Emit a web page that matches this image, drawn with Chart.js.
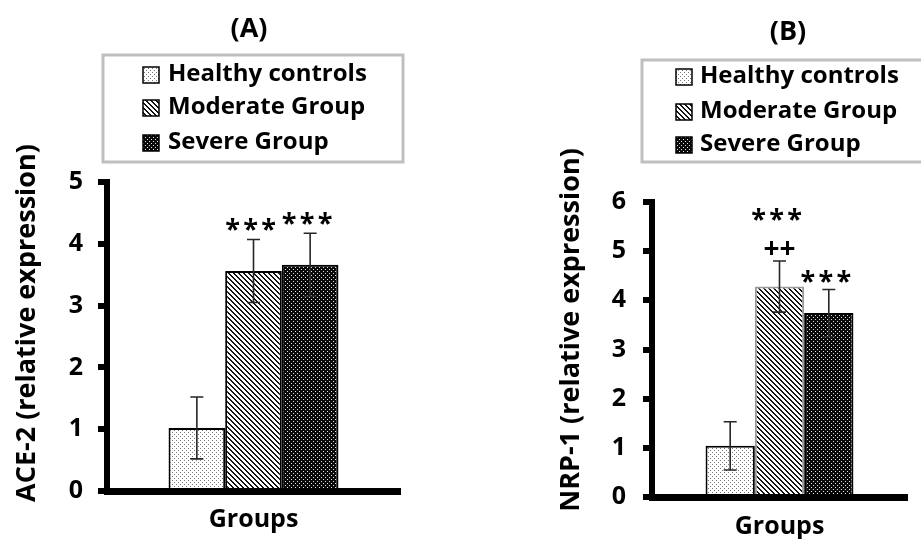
<!DOCTYPE html>
<html>
<head>
<meta charset="utf-8">
<script src="https://cdn.jsdelivr.net/npm/chart.js@4.4.0/dist/chart.umd.min.js"></script>
<style>
  html, body { margin:0; padding:0; background:#fff; }
  #wrap { position:relative; width:921px; height:539px; overflow:hidden; }
  canvas { position:absolute; top:0; }
  #chartA { left:0; }
  #chartB { left:460px; }
</style>
</head>
<body>
<div id="wrap">
  <canvas id="chartA" width="460" height="539"></canvas>
  <canvas id="chartB" width="461" height="539"></canvas>
</div>
<script>
const groups = ["Healthy controls", "Moderate Group", "Severe Group"];
const categoryLabel = ["Groups"];

// (A) ACE-2
const ace2Mean  = [1.02, 3.56, 3.66];
const ace2Err   = [0.50, 0.51, 0.51];
const ace2Marks = [[], ["***"], ["***"]];
const ace2Max   = 5;

// (B) NRP-1
const nrp1Mean  = [1.04, 4.28, 3.74];
const nrp1Err   = [0.49, 0.52, 0.48];
const nrp1Marks = [[], ["***", "++"], ["***"]];
const nrp1Max   = 6;

const FONT = "'Open Sans', Lato, sans-serif";

// small bitmap tiles -> canvas patterns
function makePattern(n, shade) {
  const c = document.createElement("canvas");
  c.width = c.height = n;
  const g = c.getContext("2d");
  const img = g.createImageData(n, n);
  for (let y = 0; y < n; y++) for (let x = 0; x < n; x++) {
    const v = shade(x, y), i = (y * n + x) * 4;
    img.data[i] = img.data[i+1] = img.data[i+2] = v;
    img.data[i+3] = 255;
  }
  g.putImageData(img, 0, 0);
  return g.createPattern(c, "repeat");
}
const fills = [
  makePattern(4, (x, y) => (x === 0 && y === 0) || (x === 2 && y === 2) ? 120 : 255),
  makePattern(5, (x, y) => (((x - y) % 5) + 5) % 5 < 2 ? 20 : 255),
  makePattern(4, (x, y) => (x === 1 && y === 1) || (x === 3 && y === 3) ? 225 : 10)
];

const errorBars = {
  id: "errorBars",
  afterDatasetsDraw(chart) {
    const { ctx, scales: { y } } = chart;
    const o = chart.options.panel;
    ctx.save();
    ctx.strokeStyle = "#262626";
    ctx.lineWidth = 1.6;
    chart.data.datasets.forEach((ds, i) => {
      const bar = chart.getDatasetMeta(i).data[0];
      const top = y.getPixelForValue(o.mean[i] + o.err[i]);
      const bot = y.getPixelForValue(o.mean[i] - o.err[i]);
      ctx.beginPath();
      ctx.moveTo(bar.x, top); ctx.lineTo(bar.x, bot);
      ctx.moveTo(bar.x - 6.5, top); ctx.lineTo(bar.x + 6.5, top);
      ctx.moveTo(bar.x - 6.5, bot); ctx.lineTo(bar.x + 6.5, bot);
      ctx.stroke();
    });
    ctx.restore();
  }
};

function centeredText(ctx, txt, x, cy) {
  const m = ctx.measureText(txt);
  ctx.textBaseline = "alphabetic";
  ctx.fillText(txt, x, cy + (m.actualBoundingBoxAscent - m.actualBoundingBoxDescent) / 2);
}

const decorations = {
  id: "decorations",
  afterDraw(chart) {
    const { ctx, scales: { y } } = chart;
    const o = chart.options.panel;
    ctx.save();
    ctx.fillStyle = "#000";
    ctx.textAlign = "center";

    // panel title
    ctx.font = "bold 27px " + FONT;
    centeredText(ctx, o.title, o.titleX, o.titleY);

    // y title
    ctx.save();
    ctx.translate(o.yTitleX, o.yTitleY);
    ctx.rotate(-Math.PI / 2);
    ctx.font = "bold 27px " + FONT;
    centeredText(ctx, o.yTitle, 0, 0);
    ctx.restore();

    // legend box
    const L = o.legend;
    ctx.strokeStyle = "#bfbfbf";
    ctx.lineWidth = 3;
    ctx.strokeRect(L.x, L.y, L.w, L.h);
    ctx.font = "bold 24px " + FONT;
    ctx.textAlign = "left";
    groups.forEach((g, i) => {
      const cy = L.rows[i];
      ctx.fillStyle = fills[i];
      ctx.fillRect(L.sx, cy - 8, 16, 16);
      ctx.strokeStyle = "#000";
      ctx.lineWidth = 1.5;
      ctx.strokeRect(L.sx, cy - 8, 16, 16);
      ctx.fillStyle = "#000";
      centeredText(ctx, g, L.tx, cy);
    });

    // significance marks above error bars
    ctx.textAlign = "center";
    o.marks.forEach((list, i) => {
      const bar = chart.getDatasetMeta(i).data[0];
      let cy = y.getPixelForValue(o.mean[i] + o.err[i]) - o.markGap;
      list.slice().reverse().forEach(t => {
        if (t[0] === "*") {
          ctx.font = "bold 27px " + FONT;
          for (let k = 0; k < t.length; k++) {
            centeredText(ctx, "*", bar.x - 3 + (k - (t.length - 1) / 2) * 18, cy);
          }
        } else {
          ctx.font = "bold 28px " + FONT;
          centeredText(ctx, t, bar.x, cy);
        }
        cy -= 34;
      });
    });
    ctx.restore();
  }
};

function panel(id, o) {
  return new Chart(document.getElementById(id).getContext("2d"), {
    type: "bar",
    data: {
      labels: categoryLabel,
      datasets: groups.map((g, i) => ({
        label: g,
        data: [o.mean[i]],
        backgroundColor: fills[i],
        borderColor: o.edges[i],
        borderWidth: 2,
        categoryPercentage: o.catPct,
        barPercentage: 1
      }))
    },
    options: {
      panel: o,
      responsive: false,
      animation: false,
      events: [],
      layout: { padding: { top: o.top, right: o.right, left: 0, bottom: 0 } },
      plugins: { legend: { display: false }, title: { display: false }, tooltip: { enabled: false } },
      scales: {
        x: {
          grid: { display: false, drawTicks: false },
          border: { display: true, color: "#000", width: 7 },
          ticks: { color: "#000", padding: o.xPad, font: { family: FONT, size: 25, weight: "bold" } },
          afterFit: s => { s.height = o.xh; }
        },
        y: {
          min: 0, max: o.max,
          ticks: { stepSize: 1, color: "#000", padding: o.yPad, font: { family: FONT, size: 25, weight: "bold" } },
          grid: { drawOnChartArea: false, drawTicks: true, tickLength: 9, lineWidth: 6, color: "#000" },
          border: { display: true, color: "#000", width: 6 },
          afterFit: s => { s.width = o.left; }
        }
      }
    },
    plugins: [errorBars, decorations]
  });
}

panel("chartA", {
  mean: ace2Mean, err: ace2Err, marks: ace2Marks, max: ace2Max,
  edges: ["#000", "#000", "#000"],
  title: "(A)", titleX: 249, titleY: 30,
  yTitle: "ACE-2 (relative expression)", yTitleX: 28, yTitleY: 323,
  left: 107, top: 182, right: 60, xh: 48, xPad: 14, yPad: 15, catPct: 0.58, markGap: 15,
  legend: { x: 103, y: 55, w: 300, h: 107, sx: 143, tx: 168, rows: [75, 108, 143] }
});

panel("chartB", {
  mean: nrp1Mean, err: nrp1Err, marks: nrp1Marks, max: nrp1Max,
  edges: ["#000", "#9a9a9a", "#000"],
  title: "(B)", titleX: 328, titleY: 33,
  yTitle: "NRP-1 (relative expression)", yTitleX: 112, yTitleY: 330,
  left: 192, top: 202, right: 14, xh: 42, xPad: 15, yPad: 17, catPct: 0.58, markGap: 13,
  legend: { x: 182, y: 60, w: 300, h: 102, sx: 216, tx: 240, rows: [77, 112, 145] }
});
</script>
</body>
</html>
